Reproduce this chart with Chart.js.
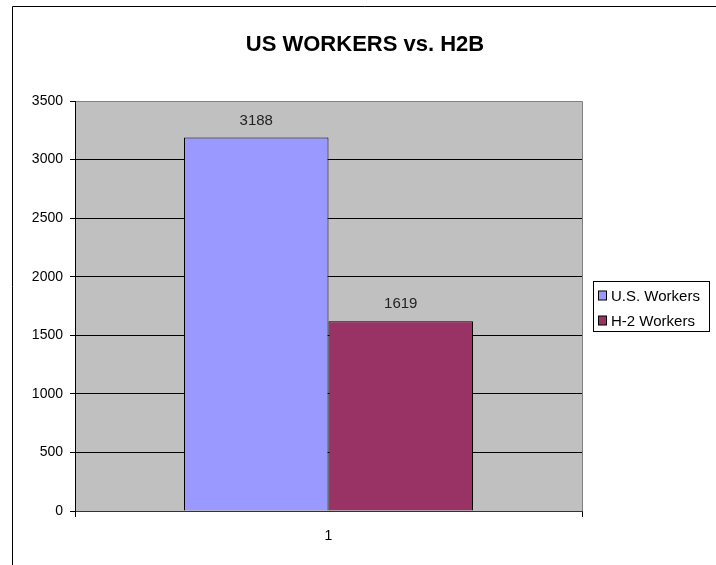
<!DOCTYPE html>
<html>
<head>
<meta charset="utf-8">
<script src="https://cdn.jsdelivr.net/npm/chart.js@4.4.0/dist/chart.umd.min.js"></script>
<style>
  body { margin: 0; background: #fff; }
  #wrap { width: 716px; height: 565px; }
</style>
</head>
<body>
<div id="wrap"><canvas id="myChart" width="716" height="565"></canvas></div>
<script>
const categories = ['1'];
const seriesNames = ['U.S. Workers', 'H-2 Workers'];
const usWorkers = [3188];
const h2Workers = [1619];
const yTicks = [0, 500, 1000, 1500, 2000, 2500, 3000, 3500];

const FONT = "Arial, 'Liberation Sans', sans-serif";

// fond gris, cadre, titre, légende et étiquettes
const excelLook = {
    id: 'excelLook',
    beforeDraw(chart) {
        const { ctx, chartArea: a } = chart;
        ctx.save();
        ctx.fillStyle = '#C0C0C0';
        ctx.fillRect(a.left, a.top, a.right - a.left, a.bottom - a.top);
        ctx.restore();
    },
    afterDatasetsDraw(chart) {
        const ctx = chart.ctx;
        ctx.save();
        ctx.font = '15px ' + FONT;
        ctx.fillStyle = '#222';
        ctx.textAlign = 'center';
        ctx.textBaseline = 'middle';
        chart.data.datasets.forEach((ds, i) => {
            chart.getDatasetMeta(i).data.forEach((bar, j) => {
                ctx.fillText(ds.data[j], bar.x, bar.y - 17);
            });
        });
        ctx.restore();
    },
    afterDraw(chart) {
        const { ctx, chartArea: a } = chart;
        ctx.save();
        // bord du graphique
        ctx.strokeStyle = '#000';
        ctx.lineWidth = 1;
        ctx.beginPath();
        ctx.moveTo(12.5, 600);
        ctx.lineTo(12.5, 6.5);
        ctx.lineTo(720, 6.5);
        ctx.stroke();
        // haut et droite de la zone de tracé
        ctx.strokeStyle = '#808080';
        ctx.beginPath();
        ctx.moveTo(a.left + 1, Math.round(a.top) + 0.5);
        ctx.lineTo(Math.round(a.right) + 0.5, Math.round(a.top) + 0.5);
        ctx.lineTo(Math.round(a.right) + 0.5, a.bottom);
        ctx.stroke();

        // titre
        ctx.fillStyle = '#000';
        ctx.font = 'bold 22px ' + FONT;
        ctx.textAlign = 'center';
        ctx.textBaseline = 'middle';
        ctx.fillText('US WORKERS vs. H2B', 365, 45);

        // légende
        ctx.strokeStyle = '#000';
        ctx.strokeRect(593.5, 281.5, 116, 50);
        ctx.font = '15px ' + FONT;
        ctx.textAlign = 'left';
        chart.data.datasets.forEach((ds, i) => {
            const y = 295.5 + i * 25;
            ctx.fillStyle = ds.backgroundColor;
            ctx.fillRect(598.5, y - 4.5, 8, 9);
            ctx.strokeRect(598.5, y - 4.5, 8, 9);
            ctx.fillStyle = '#000';
            ctx.fillText(ds.label, 611, y + 1);
        });
        ctx.restore();
    }
};

new Chart(document.getElementById('myChart'), {
    type: 'bar',
    data: {
        labels: categories,
        datasets: [
            { label: seriesNames[0], data: usWorkers, backgroundColor: '#9999FF' },
            { label: seriesNames[1], data: h2Workers, backgroundColor: '#993366' }
        ]
    },
    options: {
        responsive: false,
        animation: false,
        events: [],
        layout: { padding: { left: 0, top: 101, right: 134, bottom: 0 } },
        datasets: {
            bar: {
                categoryPercentage: 0.57,
                barPercentage: 1,
                borderColor: '#000',
                borderWidth: 1,
                borderSkipped: 'bottom'
            }
        },
        plugins: {
            legend: { display: false },
            title: { display: false },
            tooltip: { enabled: false }
        },
        scales: {
            x: {
                afterFit(scale) { scale.height = 54; },
                grid: { display: true, drawOnChartArea: false, tickLength: 6, color: '#000' },
                border: { color: '#333' },
                ticks: { color: '#000', padding: 11, font: { family: FONT, size: 14 } }
            },
            y: {
                min: 0,
                max: 3500,
                afterFit(scale) { scale.width = 75; },
                afterBuildTicks(scale) { scale.ticks = yTicks.map(v => ({ value: v })); },
                grid: { color: '#000', tickLength: 5 },
                border: { color: '#000' },
                ticks: {
                    color: '#000',
                    padding: 7,
                    font: { family: FONT, size: 14 },
                    callback: v => String(v)
                }
            }
        }
    },
    plugins: [excelLook]
});
</script>
</body>
</html>
